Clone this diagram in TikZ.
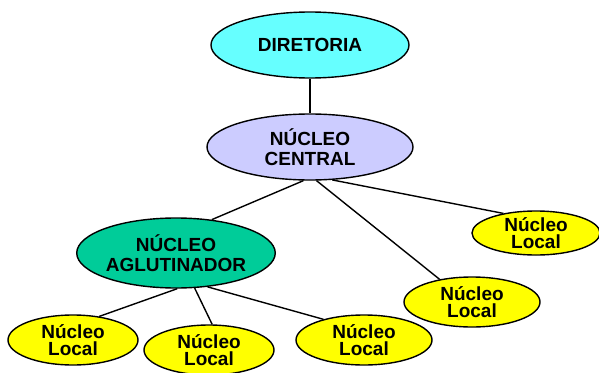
\documentclass[tikz,border=0pt]{standalone}
\usepackage{fontspec}
\setmainfont{Liberation Sans}
\usetikzlibrary{shapes.geometric, positioning}
\definecolor{ciano}{RGB}{102,255,255}
\definecolor{lilas}{RGB}{204,204,255}
\definecolor{verdeagua}{RGB}{0,204,153}
\definecolor{amarelo}{RGB}{255,255,0}
\tikzset{
x=1pt, y=1pt, % one unit is one point
node distance=100pt, % centre to centre, changed per node where needed
nucleo/.style={ellipse, draw, line width=1.4pt, inner sep=0pt, align=center,
  font=\bfseries\fontsize{19}{20}\selectfont}, % every box of the chart
local/.style={nucleo, fill=amarelo, minimum width=130pt, minimum height=50pt,
  font=\bfseries\fontsize{19}{17}\selectfont}, % the yellow local units
every edge/.style={draw, line width=1.4pt}, % plain lines, no arrow heads
}
\begin{document}
\begin{tikzpicture}
    \useasboundingbox (0,0) rectangle (599,-372);
    \node[nucleo, fill=ciano, minimum width=198pt, minimum height=66pt] (dir) at (310,-45) {DIRETORIA};
    \node[nucleo, fill=lilas, minimum width=206pt, minimum height=66pt, below of=dir, node distance=102pt] (cen) {NÚCLEO\\CENTRAL};
    \node[nucleo, fill=verdeagua, minimum width=184pt, minimum height=70pt, below of=cen, node distance=106pt, xshift=-134pt] (agl) {NÚCLEO\\AGLUTINADOR};
    \node[local, below of=agl, node distance=87pt, xshift=-103pt] (loc1) {Núcleo\\Local};
    \node[local, below of=agl, node distance=97pt, xshift=33pt] (loc2) {Núcleo\\Local};
    \node[local, below of=agl, node distance=87pt, xshift=188pt, minimum width=136pt] (loc3) {Núcleo\\Local};
    \node[local, below of=cen, node distance=155pt, xshift=162pt, minimum width=136pt] (loc4) {Núcleo\\Local};
    \node[local, below of=cen, node distance=86pt, xshift=226pt, minimum width=128pt, minimum height=44pt] (loc5) {Núcleo\\Local};
    \draw
    (dir.south) edge (cen.north)
    (cen.259) edge (agl.43)
    (cen.281) edge (loc4.145)
    (cen.304) edge (loc5.149)
    (agl.272) edge (loc1.42)
    (agl.298) edge (loc2.83)
    (agl.313) edge (loc3.153);
\end{tikzpicture}
\end{document}
